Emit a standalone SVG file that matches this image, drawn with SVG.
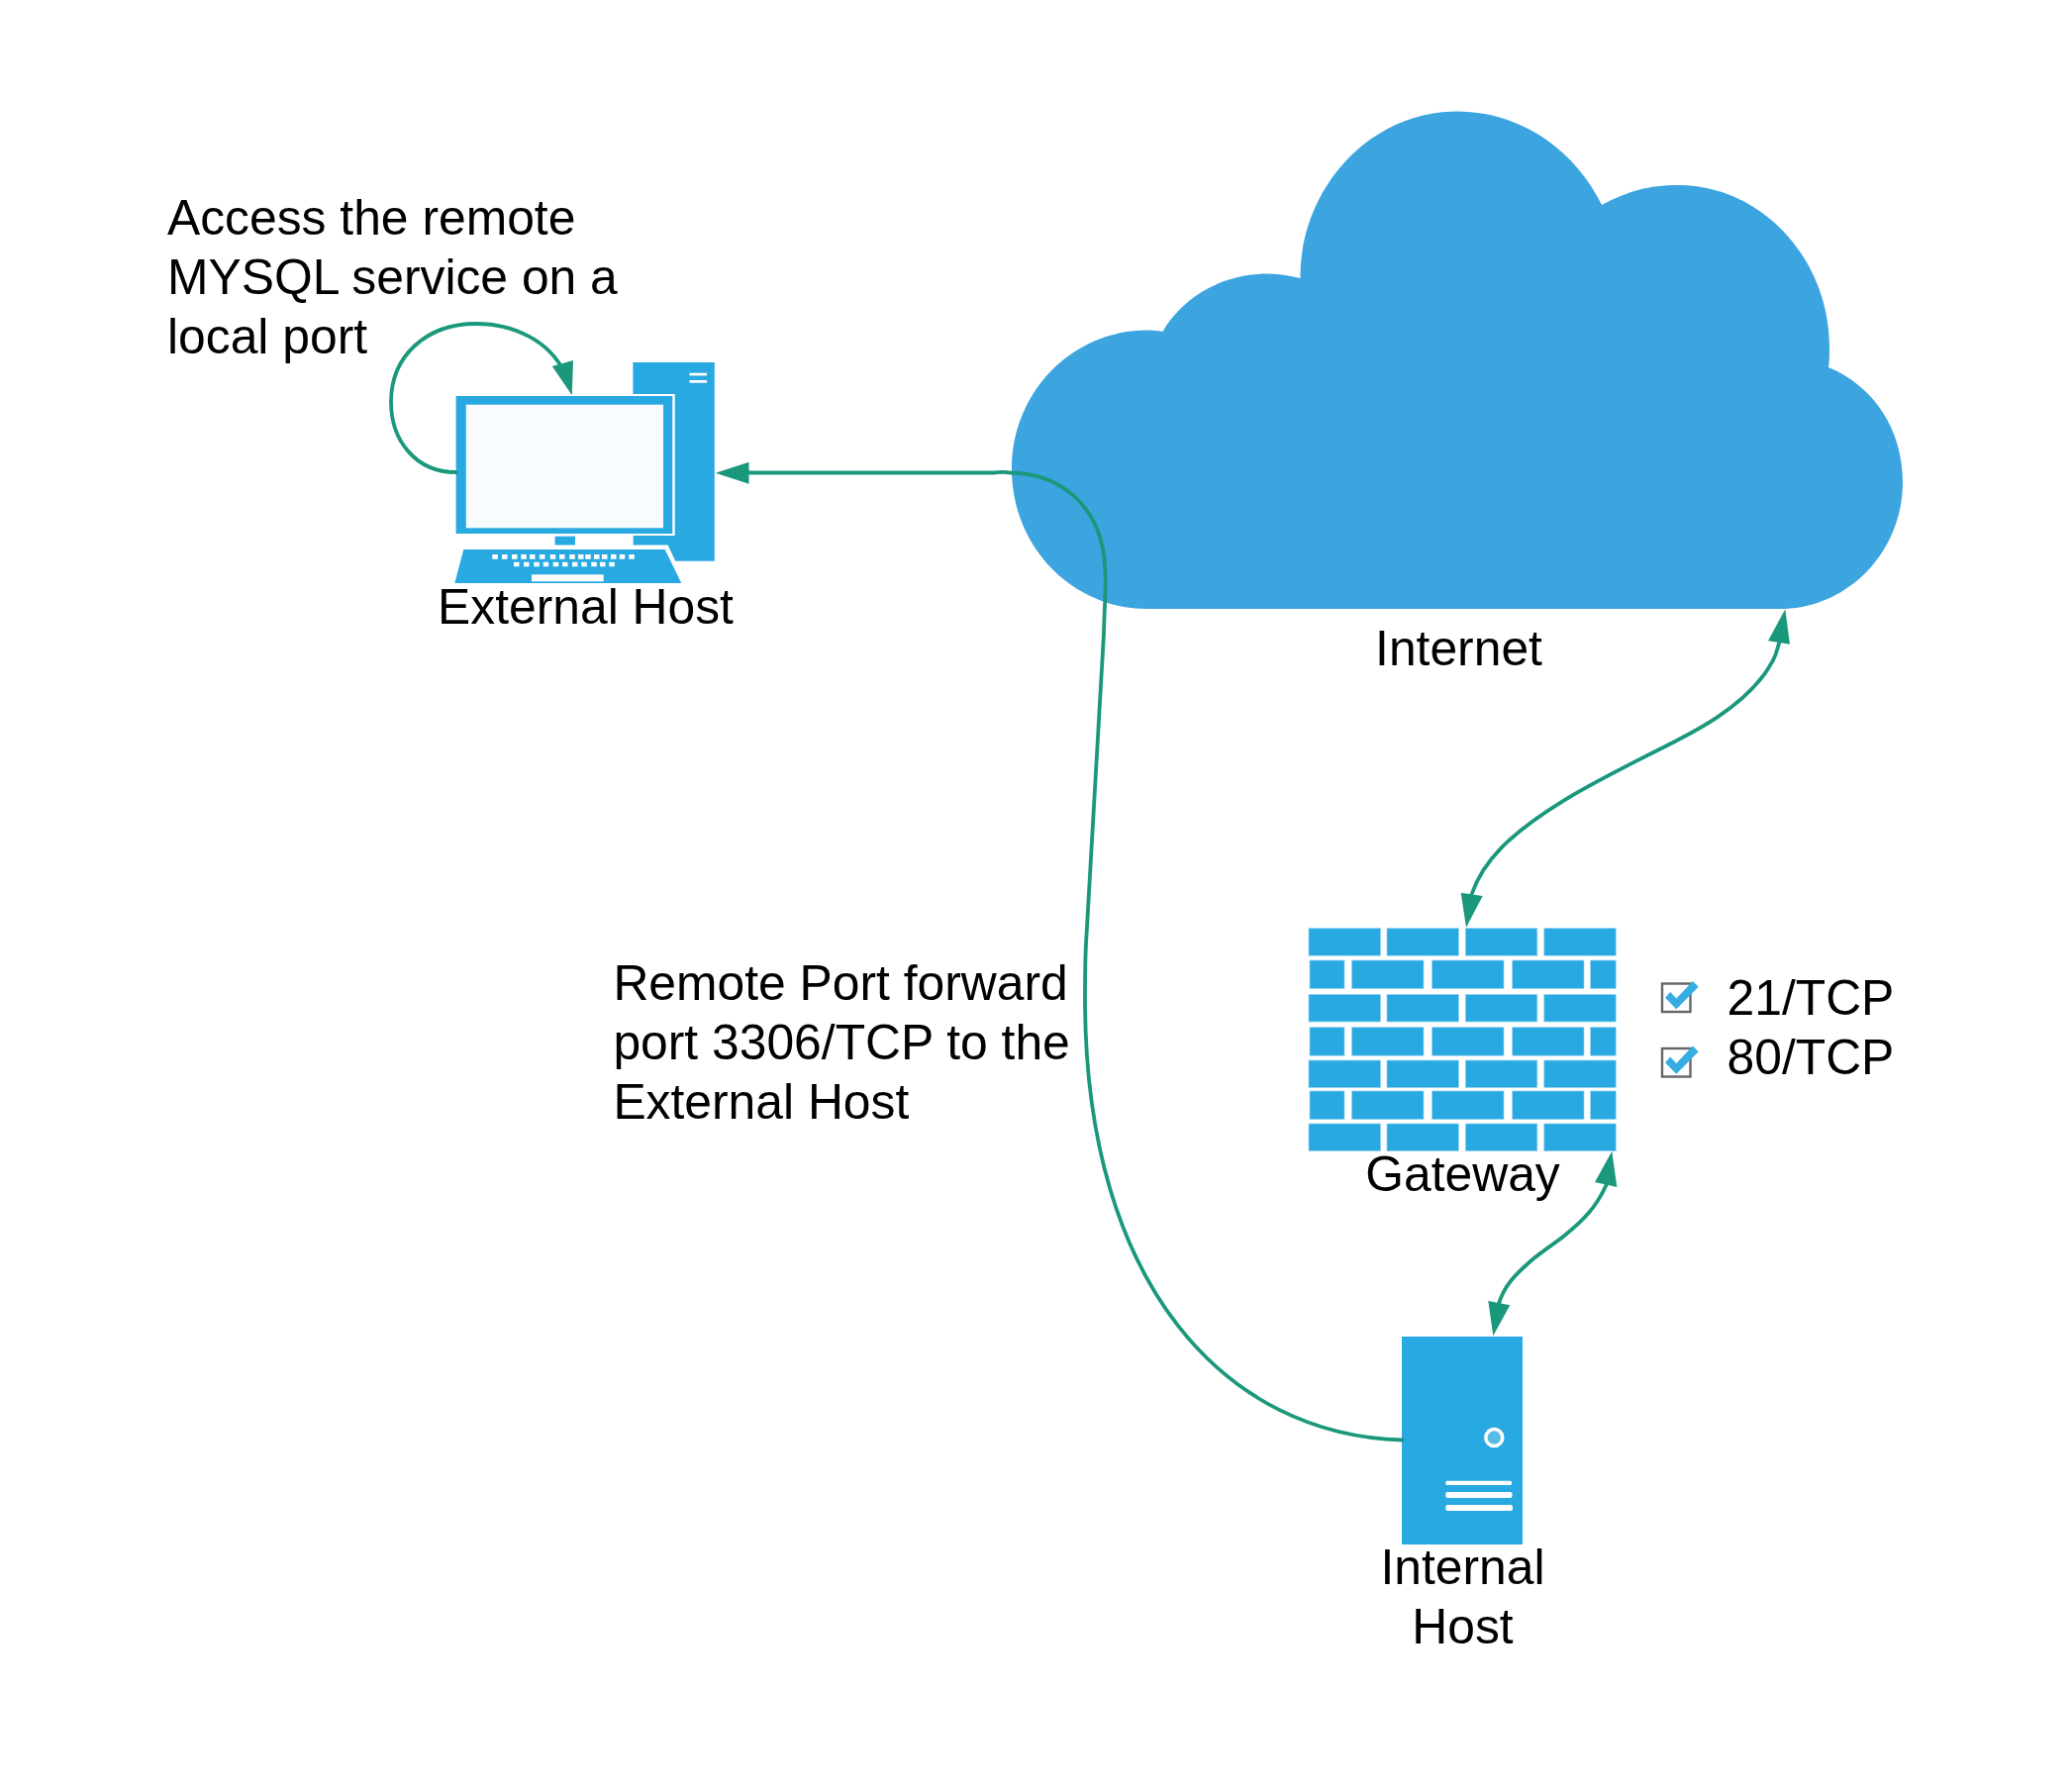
<svg xmlns="http://www.w3.org/2000/svg" width="2093" height="1809" viewBox="0 0 2093 1809">
<style>
text{font-family:"Liberation Sans",Arial,sans-serif;font-size:49.8px;fill:#000}
.m{text-anchor:middle}
.i{fill:#29a9e1}
.b{fill:#29a9e1;stroke:#8fd2f0;stroke-width:.7}
.w{fill:#fff}
.c{fill:none;stroke:#1a987c;stroke-width:3.8;stroke-linecap:round;stroke-linejoin:round}
.h{fill:#1a987c}
.box{fill:#fff;stroke:#666;stroke-width:2.4}
.chk{fill:#35ade3}
</style>
<defs>
<g id="brickrow-a"><rect x="1322" width="72.500" class="b" height="27.500"/><rect x="1401" width="72.500" class="b" height="27.500"/><rect x="1480.400" width="72.400" class="b" height="27.500"/><rect x="1559.800" width="72.400" class="b" height="27.500"/></g>
<g id="brickrow-b"><rect x="1323" width="35" class="b" height="28.500"/><rect x="1365.500" width="72.500" class="b" height="28.500"/><rect x="1446.600" width="72.400" class="b" height="28.500"/><rect x="1527.700" width="72.300" class="b" height="28.500"/><rect x="1606.600" width="25.600" class="b" height="28.500"/></g>
</defs>
<rect width="2093" height="1809" fill="#fff"/>
<g id="internet">
<path fill="#3ca5df" d="M1159 615C1083 615 1022 552 1022 474C1022 396 1083 333.500 1159 333.500C1164 333.500 1170 334 1174.500 335C1195 300 1235 276.600 1279 276.600C1291 276.600 1303 278.500 1313.500 281C1313 190 1384 112.500 1471.500 112.500C1535 112.500 1590 150 1618 207C1645 193 1665 187 1695 187C1780 187 1848 262 1848 351C1848 358 1848 365 1847 371C1893 390 1922 434 1922 487C1922 555 1870 612 1803 615Z"/>
<text class="m" x="1473.500" y="672">Internet</text>
</g>
<g id="external-host">
<rect class="i" x="639.400" y="366" width="82.400" height="200.700"/>
<rect class="w" x="696.500" y="376.700" width="17.500" height="2.700"/>
<rect class="w" x="696.500" y="384" width="17.500" height="2.700"/>
<rect class="w" x="457" y="398" width="224.700" height="143"/>
<rect class="i" x="460.600" y="400" width="218.700" height="139"/>
<rect x="470.800" y="408.700" width="199.200" height="124.600" fill="#f8fcfe"/>
<rect class="w" x="555" y="541" width="84.400" height="14"/>
<rect class="i" x="560.600" y="541.700" width="20.400" height="10"/>
<path class="w" stroke="#fff" stroke-width="5" d="M468.300 553H673L690 589H459Z"/>
<path class="i" d="M468.300 555H671.700L688.300 589H459.300Z"/>
<path class="w" d="M497.300 560h5.500v4.700h-5.500zM507 560h5.500v4.700h-5.500zM517 560h5.500v4.700h-5.500zM526.300 560h5.500v4.700h-5.500zM535 560h5.500v4.700h-5.500zM545 560h5.500v4.700h-5.500zM555.700 560h5.500v4.700h-5.500zM565 560h5.500v4.700h-5.500zM575.300 560h5.500v4.700h-5.500zM584 560h5.500v4.700h-5.500zM591.300 560h5.500v4.700h-5.500zM600 560h5.500v4.700h-5.500zM608 560h5.500v4.700h-5.500zM617 560h5.500v4.700h-5.500zM625.700 560h5.500v4.700h-5.500zM635.300 560h5.500v4.700h-5.500z"/>
<path class="w" d="M519 567.700h5.500v4.600h-5.500zM529 567.700h5.500v4.600h-5.500zM539.300 567.700h5.500v4.600h-5.500zM548.700 567.700h5.500v4.600h-5.500zM558.700 567.700h5.500v4.600h-5.500zM568 567.700h5.500v4.600h-5.500zM578 567.700h5.500v4.600h-5.500zM587.300 567.700h5.500v4.600h-5.500zM597.300 567.700h5.500v4.600h-5.500zM606 567.700h5.500v4.600h-5.500zM615.300 567.700h5.500v4.600h-5.500z"/>
<rect class="w" x="537" y="580.300" width="72.700" height="7"/>
<text class="m" x="591.500" y="629.500">External Host</text>
</g>
<g id="gateway">
<use href="#brickrow-a" y="937.700"/>
<use href="#brickrow-b" y="970"/>
<use href="#brickrow-a" y="1004.500"/>
<use href="#brickrow-b" y="1037.700"/>
<use href="#brickrow-a" y="1071"/>
<use href="#brickrow-b" y="1102"/>
<use href="#brickrow-a" y="1135"/>
<text class="m" x="1477.500" y="1202.700">Gateway</text>
</g>
<g id="ports">
<rect class="box" x="1679" y="993.500" width="28.500" height="28.500"/>
<path class="chk" d="M1682 1007.700L1693.300 1019.300L1715.700 996.700L1710 991L1693.300 1008.500L1687.300 1002Z"/>
<text x="1744.500" y="1025">21/TCP</text>
<rect class="box" x="1679" y="1059" width="28.500" height="28.500"/>
<path class="chk" d="M1682 1073.200L1693.300 1084.800L1715.700 1062.200L1710 1056.500L1693.300 1074L1687.300 1067.500Z"/>
<text x="1744.500" y="1085">80/TCP</text>
</g>
<g id="internal-host">
<rect class="i" x="1416" y="1350" width="122" height="210"/>
<circle cx="1509.300" cy="1452" r="8.500" fill="#5bbbe8" stroke="#fff" stroke-width="3.500"/>
<rect class="w" x="1460.300" y="1495.700" width="66.700" height="4.300" rx="1.500"/>
<rect class="w" x="1460.300" y="1507" width="67.200" height="6" rx="2"/>
<rect class="w" x="1460.300" y="1520" width="67.700" height="6" rx="2"/>
<text class="m" x="1477.500" y="1600">Internal</text>
<text class="m" x="1477.500" y="1660">Host</text>
</g>
<g id="labels">
<text x="169" y="236.700">Access the remote</text>
<text x="169" y="296.700">MYSQL service on a</text>
<text x="169" y="356.700">local port</text>
<text x="619.400" y="1009.500">Remote Port forward</text>
<text x="619.400" y="1069.500">port 3306/TCP to the</text>
<text x="619.400" y="1129.500">External Host</text>
</g>
<g id="connectors">
<path class="c" d="M460.600 477C420 477 395 445 395 406C395 360 430 327 481 327C520 327 555 345 570 376"/>
<path class="h" d="M577.800 399.300L557.800 370L579 364Z"/>
<path class="c" d="M1416.700 1454.500C1240 1450 1096 1300 1096 1009C1096 985 1096 965 1097.500 945L1115 640C1116 600 1118 590 1116 570C1112 510 1070 478 1020 477.500C1012 476 1008 477.500 1004 477.500H755"/>
<path class="h" d="M722.700 477.700L756.500 466.700V488.700Z"/>
<path class="c" d="M1486.700 903C1498 870 1525 842 1580 808.300C1610 790 1680 755 1680 755C1710 740 1760 715 1785 677L1791 667C1795 660 1795 655 1797.300 649"/>
<path class="h" d="M1803.300 615.300L1786 647.300L1808 650.700Z"/>
<path class="h" d="M1481 936.700L1475.700 901.700L1497.700 905Z"/>
<path class="c" d="M1514 1316.700C1520 1298 1530 1288 1546.700 1273.300C1560 1262 1572 1255 1580 1248.300C1600 1232 1612 1220 1623 1196"/>
<path class="h" d="M1628.300 1162.700L1611 1194L1633.300 1199Z"/>
<path class="h" d="M1508.300 1349.300L1503.300 1314L1525.300 1318.300Z"/>
</g>
</svg>
